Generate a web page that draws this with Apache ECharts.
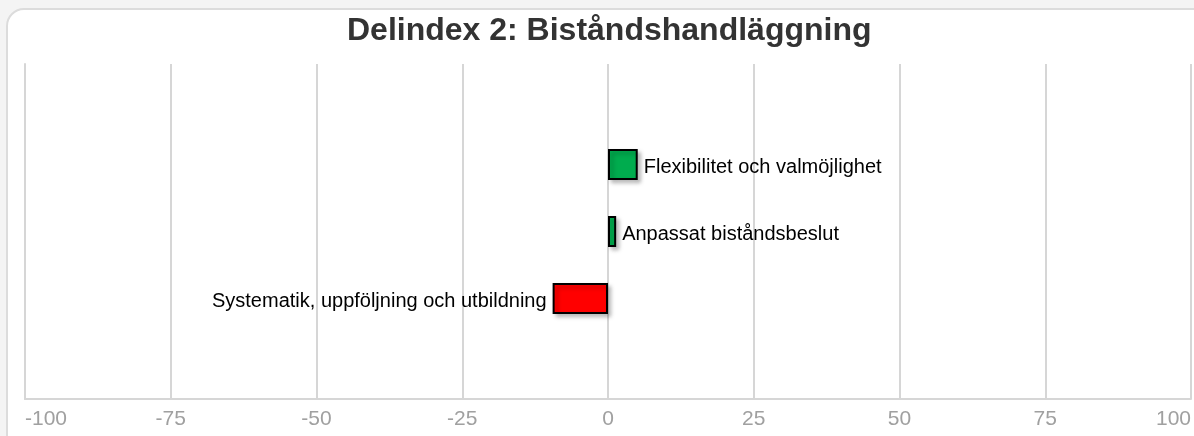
<!DOCTYPE html>
<html>
<head>
<meta charset="utf-8">
<script src="https://cdn.jsdelivr.net/npm/echarts@6/dist/echarts.min.js"></script>
<style>
html,body{margin:0;padding:0;background:#f4f4f4;width:1194px;height:436px;overflow:hidden;}
#card{position:absolute;left:6px;top:8px;width:1210px;height:460px;background:#fff;border:2px solid #dcdcdc;border-radius:18px;box-sizing:border-box;}
#chart{position:absolute;left:0;top:0;width:1194px;height:436px;}
</style>
</head>
<body>
<div id="card"></div>
<div id="chart"></div>
<script>
const titleText = 'Delindex 2: Biståndshandläggning';
const categories = ['', 'Systematik, uppföljning och utbildning', 'Anpassat biståndsbeslut', 'Flexibilitet och valmöjlighet', ''];
const values = [null, -9.5, 1.4, 5.1, null];
const xTicks = [-100, -75, -50, -25, 0, 25, 50, 75, 100];

const green = '#00ac4e', red = '#ff0000';
const data = values.map((v, i) => v === null ? null : ({
  value: v,
  itemStyle: { color: v >= 0 ? green : red },
  label: { position: v >= 0 ? 'right' : 'left', formatter: categories[i] }
}));

const chart = echarts.init(document.getElementById('chart'), null, {renderer: 'canvas'});
chart.setOption({
  animation: false,
  title: {
    text: titleText, left: 342, top: 10,
    textStyle: { fontFamily: 'Liberation Sans, Arial, sans-serif', fontSize: 32, fontWeight: 'bold', color: '#333' }
  },
  grid: { left: 25, right: 3, top: 64, bottom: 37, containLabel: false },
  xAxis: {
    type: 'value', min: xTicks[0], max: xTicks[xTicks.length - 1], interval: 25,
    axisLine: { show: true, lineStyle: { color: '#d6d6d6', width: 2 } },
    axisTick: { show: false },
    splitLine: { show: true, lineStyle: { color: '#d6d6d6', width: 2 } },
    axisLabel: {
      color: '#a0a0a0', fontSize: 21, fontFamily: 'Liberation Sans, Arial, sans-serif', margin: 10,
      alignMinLabel: 'left', alignMaxLabel: 'right'
    }
  },
  yAxis: {
    type: 'category', data: categories,
    axisLine: { show: true, onZero: false, lineStyle: { color: '#d6d6d6', width: 2 } },
    axisTick: { show: false },
    axisLabel: { show: false },
    splitLine: { show: false }
  },
  series: [{
    type: 'bar', data: data, barWidth: 31,
    itemStyle: {
      borderColor: '#000', borderWidth: 2,
      shadowColor: 'rgba(0,0,0,0.25)', shadowBlur: 4, shadowOffsetX: 3, shadowOffsetY: 3
    },
    label: {
      show: true, distance: 6, color: '#000', fontSize: 20, offset: [0, 3],
      fontFamily: 'Liberation Sans, Arial, sans-serif'
    }
  }]
});
</script>
</body>
</html>
